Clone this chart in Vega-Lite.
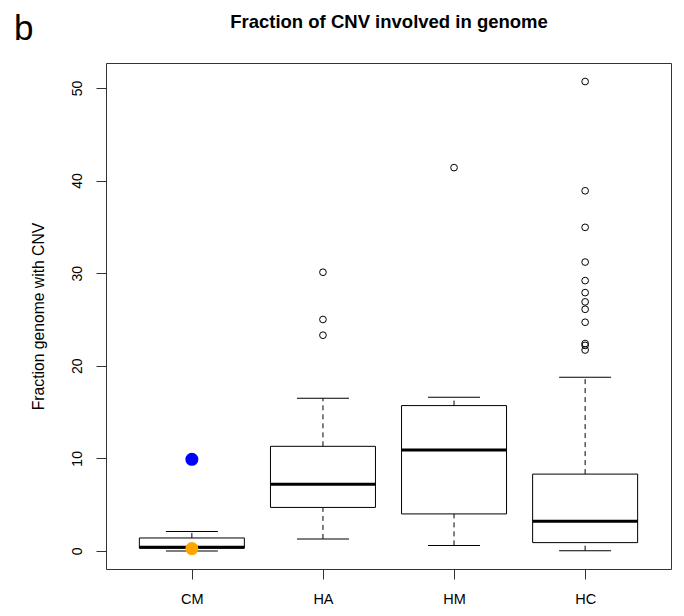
{
  "$schema": "https://vega.github.io/schema/vega-lite/v6.json",
  "width": 565,
  "height": 506,
  "autosize": "none",
  "padding": {"left": 106, "top": 63, "right": 13, "bottom": 47},
  "background": "white",
  "config": {
    "font": "Liberation Sans",
    "view": {"stroke": "#333333", "strokeWidth": 1, "fill": null},
    "axis": {"grid": false, "labelColor": "black", "titleColor": "black", "tickColor": "#333333", "domain": false, "labelFont": "Liberation Sans", "titleFont": "Liberation Sans"}
  },
  "title": {
    "text": "b",
    "anchor": "start",
    "frame": "group",
    "fontSize": 35,
    "fontWeight": "normal",
    "color": "black",
    "font": "Liberation Sans",
    "dx": -92,
    "dy": 39
  },
  "datasets": {
    "boxes": [
      {"group": "CM", "lower": 0.0, "q1": 0.3, "median": 0.4, "q3": 1.4, "upper": 2.1},
      {"group": "HA", "lower": 1.3, "q1": 4.7, "median": 7.2, "q3": 11.3, "upper": 16.5},
      {"group": "HM", "lower": 0.6, "q1": 4.0, "median": 10.9, "q3": 15.7, "upper": 16.6},
      {"group": "HC", "lower": 0.03, "q1": 0.9, "median": 3.2, "q3": 8.3, "upper": 18.75}
    ],
    "outliers": [
      {"group": "HA", "value": 30.1},
      {"group": "HA", "value": 25.0},
      {"group": "HA", "value": 23.3},
      {"group": "HM", "value": 41.4},
      {"group": "HC", "value": 50.7},
      {"group": "HC", "value": 38.9},
      {"group": "HC", "value": 34.95},
      {"group": "HC", "value": 31.2},
      {"group": "HC", "value": 29.2},
      {"group": "HC", "value": 27.9},
      {"group": "HC", "value": 26.9},
      {"group": "HC", "value": 26.1},
      {"group": "HC", "value": 24.7},
      {"group": "HC", "value": 22.4},
      {"group": "HC", "value": 22.2},
      {"group": "HC", "value": 21.7}
    ],
    "highlights": [
      {"group": "CM", "value": 9.9, "sample": "high"},
      {"group": "CM", "value": 0.25, "sample": "low"}
    ]
  },
  "resolve": {"axis": {"x": "independent"}},
  "layer": [
    {
      "data": {"name": "boxes"},
      "mark": {"type": "rule", "color": "black", "strokeWidth": 1, "strokeDash": [5, 4]},
      "encoding": {
        "x": {"field": "group", "type": "nominal", "sort": ["CM", "HA", "HM", "HC"], "scale": {"type": "point", "padding": 0.655}, "axis": null},
        "y": {"field": "q3", "type": "quantitative", "scale": {"domain": [-1.95, 52.7], "nice": false, "zero": false},
          "axis": {"values": [0, 10, 20, 30, 40, 50], "labelAngle": -90, "labelAlign": "center", "labelBaseline": "bottom", "labelFontSize": 14, "labelPadding": 12, "tickSize": 10, "title": "Fraction genome with CNV", "titleFontSize": 15.7, "titleFontWeight": "normal", "titlePadding": 24}},
        "y2": {"field": "upper"}
      }
    },
    {
      "data": {"name": "boxes"},
      "mark": {"type": "rule", "color": "black", "strokeWidth": 1, "strokeDash": [5, 4]},
      "encoding": {
        "x": {"field": "group", "type": "nominal", "sort": ["CM", "HA", "HM", "HC"], "axis": null},
        "y": {"field": "lower", "type": "quantitative"},
        "y2": {"field": "q1"}
      }
    },
    {
      "data": {"name": "boxes"},
      "mark": {"type": "tick", "color": "black", "size": 52, "thickness": 1, "opacity": 1},
      "encoding": {
        "x": {"field": "group", "type": "nominal", "sort": ["CM", "HA", "HM", "HC"], "axis": null},
        "y": {"field": "upper", "type": "quantitative"}
      }
    },
    {
      "data": {"name": "boxes"},
      "mark": {"type": "tick", "color": "black", "size": 52, "thickness": 1, "opacity": 1},
      "encoding": {
        "x": {"field": "group", "type": "nominal", "sort": ["CM", "HA", "HM", "HC"], "axis": null},
        "y": {"field": "lower", "type": "quantitative"}
      }
    },
    {
      "data": {"name": "boxes"},
      "mark": {"type": "bar", "width": 105, "fill": "white", "stroke": "black", "strokeWidth": 1},
      "encoding": {
        "x": {"field": "group", "type": "nominal", "sort": ["CM", "HA", "HM", "HC"],
          "axis": {"orient": "top", "labels": false, "ticks": false, "domain": false, "title": "Fraction of CNV involved in genome", "titleFontSize": 18.5, "titleFontWeight": "bold", "titlePadding": 32}},
        "y": {"field": "q1", "type": "quantitative"},
        "y2": {"field": "q3"}
      }
    },
    {
      "data": {"name": "boxes"},
      "mark": {"type": "tick", "color": "black", "size": 105, "thickness": 3, "opacity": 1},
      "encoding": {
        "x": {"field": "group", "type": "nominal", "sort": ["CM", "HA", "HM", "HC"],
          "axis": {"orient": "bottom", "labelAngle": 0, "labelFontSize": 14.5, "labelPadding": 13, "tickSize": 10, "title": null}},
        "y": {"field": "median", "type": "quantitative"}
      }
    },
    {
      "data": {"name": "outliers"},
      "mark": {"type": "point", "shape": "circle", "filled": false, "stroke": "black", "strokeWidth": 1, "size": 45, "opacity": 1},
      "encoding": {
        "x": {"field": "group", "type": "nominal", "sort": ["CM", "HA", "HM", "HC"], "axis": null},
        "y": {"field": "value", "type": "quantitative"}
      }
    },
    {
      "data": {"name": "highlights"},
      "mark": {"type": "point", "shape": "circle", "filled": true, "size": 170, "opacity": 1},
      "encoding": {
        "x": {"field": "group", "type": "nominal", "sort": ["CM", "HA", "HM", "HC"], "axis": null},
        "y": {"field": "value", "type": "quantitative"},
        "color": {"field": "sample", "type": "nominal", "scale": {"domain": ["high", "low"], "range": ["#0000ff", "#ffa500"]}, "legend": null}
      }
    }
  ]
}
